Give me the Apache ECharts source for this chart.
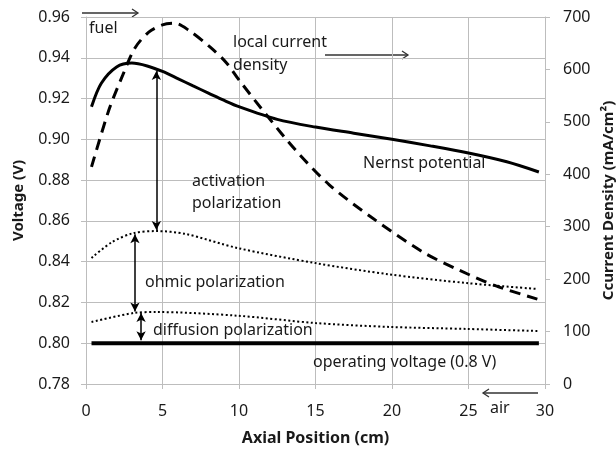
<!DOCTYPE html>
<html>
<head>
<meta charset="utf-8">
<script src="https://cdn.jsdelivr.net/npm/echarts@6/dist/echarts.min.js"></script>
<style>
  html, body { margin: 0; padding: 0; background: #fff; }
  #chart { width: 616px; height: 451px; }
</style>
</head>
<body>
<div id="chart"></div>
<script>
  // axial position (cm) and values
  var nernstPos = [0.36, 1, 2, 3, 4, 5, 6, 7, 8, 9, 10, 12.5, 15, 17.5, 20, 22.5, 25, 27.5, 29.6]
  var nernstV = [0.916, 0.9275, 0.9355, 0.9374, 0.936, 0.9333, 0.9298, 0.9262, 0.9227, 0.9192, 0.916, 0.9098, 0.906, 0.903, 0.900, 0.8968, 0.8933, 0.889, 0.884]

  var currentPos = [0.36, 1.5, 2.4, 3.2, 4.1, 5.0, 5.8, 6.7, 8.1, 9.2, 10.0, 11.8, 13.7, 15.9, 18.7, 22.0, 24.4, 26.8, 29.5]
  var currentDensity = [414, 523, 589, 641, 671, 685, 688, 675, 643, 612, 580, 513, 446, 380, 317, 252, 217, 187, 162]

  var ohmicPos = [0.36, 1.7, 3.1, 4.6, 6.5, 9.9, 15.0, 19.8, 24.9, 29.5]
  var ohmicV = [0.8418, 0.8496, 0.854, 0.855, 0.8536, 0.8467, 0.8393, 0.8338, 0.8295, 0.8266]

  var diffPos = [0.36, 3.1, 4.6, 9.9, 15.0, 19.8, 24.9, 29.5]
  var diffV = [0.8104, 0.8148, 0.8153, 0.8135, 0.8099, 0.808, 0.807, 0.806]

  var opPos = [0.36, 29.6]
  var opV = [0.8, 0.8]

  var xTicks = [0, 5, 10, 15, 20, 25, 30]
  var voltTicks = [0.78, 0.80, 0.82, 0.84, 0.86, 0.88, 0.90, 0.92, 0.94, 0.96]
  var currentTicks = [0, 100, 200, 300, 400, 500, 600, 700]

  function zip(xs, ys) {
    return xs.map(function (x, i) { return [x, ys[i]] })
  }

  var FONT = 'Noto Sans'
  var TXT = '#1a1a1a'
  var GRID = '#bdbdbd'

  var chart = echarts.init(document.getElementById('chart'))

  // annotation text, y is the text's vertical centre
  function label(text, x, y) {
    return {
      type: 'text', x: x, y: y, z: 100,
      style: { text: text, fill: TXT, font: '16px "' + FONT + '"', verticalAlign: 'middle' }
    }
  }
  function arrow(x1, x2, y) {
    var d = x2 > x1 ? -6 : 6
    return {
      type: 'group', z: 100,
      children: [
        { type: 'line', shape: { x1: x1, y1: y, x2: x2, y2: y }, style: { stroke: '#333', lineWidth: 1.3 } },
        { type: 'polyline', shape: { points: [[x2 + d, y - 4], [x2, y], [x2 + d, y + 4]] }, style: { stroke: '#333', lineWidth: 1.3, fill: null } }
      ]
    }
  }

  var option = {
    animation: false,
    backgroundColor: '#fff',
    textStyle: { fontFamily: FONT, color: TXT },
    grid: { left: 86, right: 71, top: 17, bottom: 67, containLabel: false, outerBoundsMode: 'none' },
    xAxis: {
      type: 'value',
      min: xTicks[0],
      max: xTicks[xTicks.length - 1],
      interval: 5,
      name: 'Axial Position (cm)',
      nameLocation: 'middle',
      nameGap: 46,
      nameTextStyle: { fontSize: 16, fontWeight: 'bold', color: TXT, fontFamily: FONT },
      axisLine: { show: true, lineStyle: { color: GRID } },
      axisTick: { show: true, length: 5, lineStyle: { color: GRID } },
      axisLabel: { fontSize: 16, color: TXT, margin: 19, fontFamily: FONT },
      splitLine: { show: true, lineStyle: { color: GRID } }
    },
    yAxis: [{
      type: 'value',
      min: voltTicks[0],
      max: voltTicks[voltTicks.length - 1],
      interval: 0.02,
      name: 'Voltage (V)',
      nameLocation: 'middle',
      nameGap: 60,
      nameTextStyle: { fontSize: 15, fontWeight: 'bold', color: TXT, fontFamily: FONT },
      axisLine: { show: true, lineStyle: { color: GRID } },
      axisTick: { show: true, length: 5, lineStyle: { color: GRID } },
      axisLabel: { fontSize: 16, color: TXT, margin: 16, fontFamily: FONT, formatter: function (v) { return v.toFixed(2) } },
      splitLine: { show: true, lineStyle: { color: GRID } }
    }, {
      type: 'value',
      position: 'right',
      min: currentTicks[0],
      max: currentTicks[currentTicks.length - 1],
      interval: 100,
      name: 'Ccurrent Density (mA/cm²)',
      nameLocation: 'middle',
      nameGap: 53,
      nameTextStyle: { fontSize: 15, fontWeight: 'bold', color: TXT, fontFamily: FONT },
      axisLine: { show: true, lineStyle: { color: GRID } },
      axisTick: { show: true, length: 5, lineStyle: { color: GRID } },
      axisLabel: { fontSize: 16, color: TXT, margin: 18, fontFamily: FONT },
      splitLine: { show: false }
    }],
    series: [{
      name: 'local current density',
      type: 'line',
      yAxisIndex: 1,
      data: zip(currentPos, currentDensity),
      smooth: 0.3,
      showSymbol: false,
      lineStyle: { color: '#000', width: 3, type: [11, 7] }
    }, {
      name: 'Nernst potential',
      type: 'line',
      data: zip(nernstPos, nernstV),
      smooth: 0.3,
      showSymbol: false,
      lineStyle: { color: '#000', width: 3 },
      markLine: {
        silent: true,
        symbol: ['arrow', 'arrow'],
        symbolSize: [7, 9],
        label: { show: false },
        lineStyle: { color: '#000', width: 1.5, type: 'solid' },
        data: [
          [{ coord: [4.6, 0.9335] }, { coord: [4.6, 0.8555] }],
          [{ coord: [3.2, 0.8535] }, { coord: [3.2, 0.8155] }],
          [{ coord: [3.6, 0.8148] }, { coord: [3.6, 0.8015] }]
        ]
      }
    }, {
      name: 'ohmic',
      type: 'line',
      data: zip(ohmicPos, ohmicV),
      smooth: 0.3,
      showSymbol: false,
      lineStyle: { color: '#000', width: 2, type: [2, 2.5] }
    }, {
      name: 'diffusion',
      type: 'line',
      data: zip(diffPos, diffV),
      smooth: 0.3,
      showSymbol: false,
      lineStyle: { color: '#000', width: 2, type: [2, 2.5] }
    }, {
      name: 'operating voltage',
      type: 'line',
      data: zip(opPos, opV),
      showSymbol: false,
      lineStyle: { color: '#000', width: 4 }
    }],
    graphic: [
      arrow(82, 138, 13),
      label('fuel', 89, 28),
      label('local current', 233, 42),
      label('density', 233, 65),
      arrow(325, 408, 55),
      label('activation', 192, 181),
      label('polarization', 192, 203),
      label('Nernst potential', 363, 163),
      label('ohmic polarization', 145, 282),
      label('diffusion polarization', 153, 330),
      label('operating voltage (0.8 V)', 313, 362),
      arrow(538, 483, 393),
      label('air', 490, 408)
    ]
  }

  chart.setOption(option)
</script>
</body>
</html>
